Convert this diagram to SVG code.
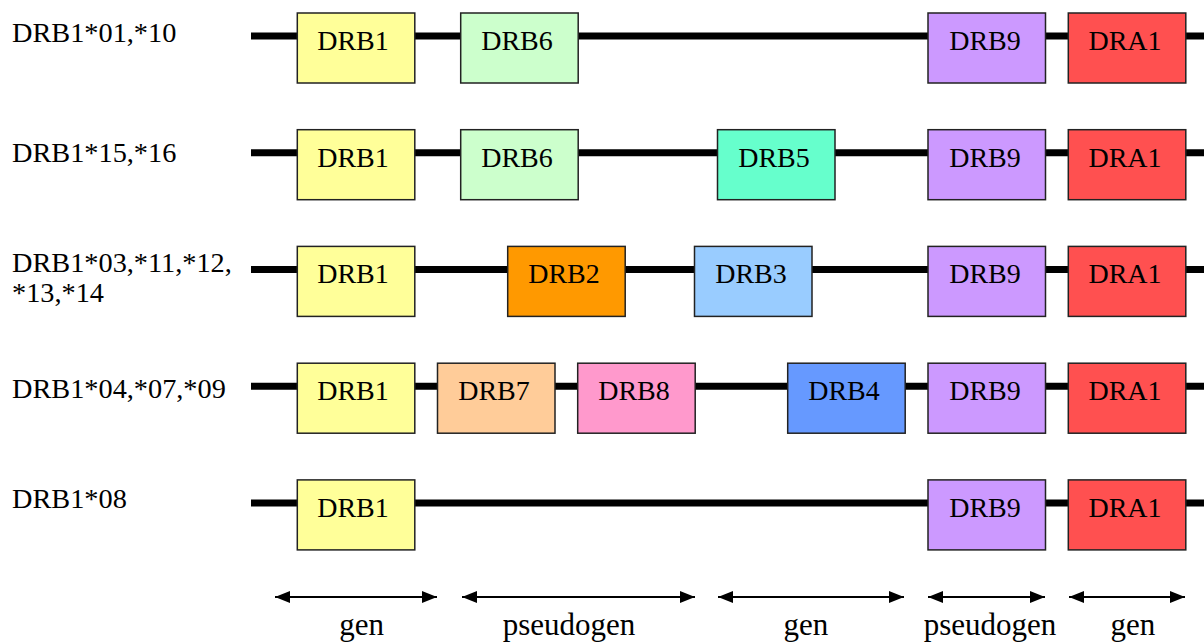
<svg xmlns="http://www.w3.org/2000/svg" width="1204" height="644" viewBox="0 0 1204 644">
<style>
.bg{fill:#ffffff}
.chr{stroke:#000;stroke-width:7;fill:none}
.box{stroke:#222;stroke-width:1.5}
.bt{font-family:"Liberation Serif","Times New Roman",serif;font-size:28px;fill:#000;text-anchor:middle}
.lab{font-family:"Liberation Serif","Times New Roman",serif;font-size:28.3px;fill:#000}
.cap{font-family:"Liberation Serif","Times New Roman",serif;font-size:31px;fill:#000;text-anchor:middle}
.arr{stroke:#000;stroke-width:2;fill:none;marker-start:url(#ah);marker-end:url(#ah)}
.drb1{fill:#FFFF99}.drb6{fill:#CCFFCC}.drb5{fill:#66FFCC}.drb2{fill:#FF9900}.drb3{fill:#99CCFF}
.drb7{fill:#FFCC99}.drb8{fill:#FF99CC}.drb4{fill:#6699FF}.drb9{fill:#CC99FF}.dra1{fill:#FF5050}
</style>
<defs>
<marker id="ah" markerUnits="userSpaceOnUse" markerWidth="16" markerHeight="13" refX="15" refY="6" orient="auto-start-reverse">
<path d="M0,0 L15,6 L0,12 z" fill="#000"/>
</marker>
</defs>
<rect class="bg" x="0" y="0" width="1204" height="644"/>
<g id="connectors">
<line class="chr" x1="251" y1="36" x2="1204" y2="36"/>
<line class="chr" x1="251" y1="152.7" x2="1204" y2="152.7"/>
<line class="chr" x1="251" y1="269.4" x2="1204" y2="269.4"/>
<line class="chr" x1="251" y1="386.2" x2="1204" y2="386.2"/>
<line class="chr" x1="251" y1="502.9" x2="1204" y2="502.9"/>
<line class="arr" x1="275" y1="597" x2="437" y2="597"/>
<line class="arr" x1="462" y1="597" x2="695" y2="597"/>
<line class="arr" x1="718" y1="597" x2="904" y2="597"/>
<line class="arr" x1="928" y1="597" x2="1045" y2="597"/>
<line class="arr" x1="1069" y1="597" x2="1185" y2="597"/>
</g>
<g id="labels">
<text class="lab" x="12" y="42.3">DRB1*01,*10</text>
<text class="lab" x="12" y="162.3">DRB1*15,*16</text>
<text class="lab" x="12" y="271.5">DRB1*03,*11,*12,</text>
<text class="lab" x="12" y="301.7">*13,*14</text>
<text class="lab" x="12" y="398">DRB1*04,*07,*09</text>
<text class="lab" x="12" y="508.3">DRB1*08</text>
</g>
<!-- Row 1 -->
<g id="r1-drb1"><rect class="box drb1" x="297.3" y="13" width="117.5" height="70"/><text class="bt" x="353" y="50">DRB1</text></g>
<g id="r1-drb6"><rect class="box drb6" x="460.7" y="13" width="117.5" height="70"/><text class="bt" x="517" y="50">DRB6</text></g>
<g id="r1-drb9"><rect class="box drb9" x="928" y="13" width="117.5" height="70"/><text class="bt" x="985" y="50">DRB9</text></g>
<g id="r1-dra1"><rect class="box dra1" x="1068.3" y="13" width="117.5" height="70"/><text class="bt" x="1125" y="50">DRA1</text></g>
<!-- Row 2 -->
<g id="r2-drb1"><rect class="box drb1" x="297.3" y="129.7" width="117.5" height="70"/><text class="bt" x="353" y="166.7">DRB1</text></g>
<g id="r2-drb6"><rect class="box drb6" x="460.7" y="129.7" width="117.5" height="70"/><text class="bt" x="517" y="166.7">DRB6</text></g>
<g id="r2-drb5"><rect class="box drb5" x="717.5" y="129.7" width="117.5" height="70"/><text class="bt" x="774" y="166.7">DRB5</text></g>
<g id="r2-drb9"><rect class="box drb9" x="928" y="129.7" width="117.5" height="70"/><text class="bt" x="985" y="166.7">DRB9</text></g>
<g id="r2-dra1"><rect class="box dra1" x="1068.3" y="129.7" width="117.5" height="70"/><text class="bt" x="1125" y="166.7">DRA1</text></g>
<!-- Row 3 -->
<g id="r3-drb1"><rect class="box drb1" x="297.3" y="246.4" width="117.5" height="70"/><text class="bt" x="353" y="283.4">DRB1</text></g>
<g id="r3-drb2"><rect class="box drb2" x="507.7" y="246.4" width="117.5" height="70"/><text class="bt" x="564" y="283.4">DRB2</text></g>
<g id="r3-drb3"><rect class="box drb3" x="694.5" y="246.4" width="117.5" height="70"/><text class="bt" x="751" y="283.4">DRB3</text></g>
<g id="r3-drb9"><rect class="box drb9" x="928" y="246.4" width="117.5" height="70"/><text class="bt" x="985" y="283.4">DRB9</text></g>
<g id="r3-dra1"><rect class="box dra1" x="1068.3" y="246.4" width="117.5" height="70"/><text class="bt" x="1125" y="283.4">DRA1</text></g>
<!-- Row 4 -->
<g id="r4-drb1"><rect class="box drb1" x="297.3" y="363.2" width="117.5" height="70"/><text class="bt" x="353" y="400.2">DRB1</text></g>
<g id="r4-drb7"><rect class="box drb7" x="437.5" y="363.2" width="117.5" height="70"/><text class="bt" x="494" y="400.2">DRB7</text></g>
<g id="r4-drb8"><rect class="box drb8" x="577.7" y="363.2" width="117.5" height="70"/><text class="bt" x="634" y="400.2">DRB8</text></g>
<g id="r4-drb4"><rect class="box drb4" x="787.7" y="363.2" width="117.5" height="70"/><text class="bt" x="844" y="400.2">DRB4</text></g>
<g id="r4-drb9"><rect class="box drb9" x="928" y="363.2" width="117.5" height="70"/><text class="bt" x="985" y="400.2">DRB9</text></g>
<g id="r4-dra1"><rect class="box dra1" x="1068.3" y="363.2" width="117.5" height="70"/><text class="bt" x="1125" y="400.2">DRA1</text></g>
<!-- Row 5 -->
<g id="r5-drb1"><rect class="box drb1" x="297.3" y="479.9" width="117.5" height="70"/><text class="bt" x="353" y="516.9">DRB1</text></g>
<g id="r5-drb9"><rect class="box drb9" x="928" y="479.9" width="117.5" height="70"/><text class="bt" x="985" y="516.9">DRB9</text></g>
<g id="r5-dra1"><rect class="box dra1" x="1068.3" y="479.9" width="117.5" height="70"/><text class="bt" x="1125" y="516.9">DRA1</text></g>
<g id="captions">
<text class="cap" x="361.7" y="635">gen</text>
<text class="cap" x="569" y="635">pseudogen</text>
<text class="cap" x="806" y="635">gen</text>
<text class="cap" x="990" y="635">pseudogen</text>
<text class="cap" x="1133" y="635">gen</text>
</g>
</svg>
